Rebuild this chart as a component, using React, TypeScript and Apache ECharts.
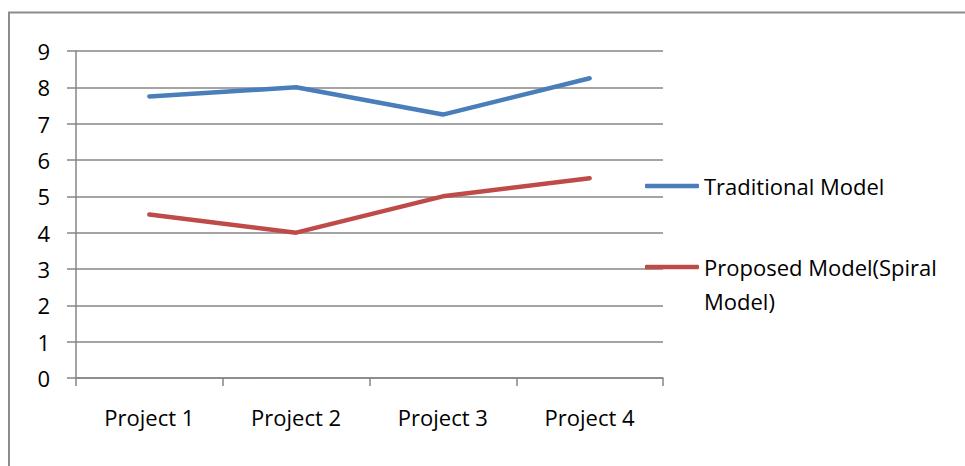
import React, { useEffect, useRef } from "react";
import * as echarts from "echarts";

const categories = ["Project 1", "Project 2", "Project 3", "Project 4"];
const traditional = [7.75, 8, 7.25, 8.25];
const proposed = [4.5, 4, 5, 5.5];
const seriesNames = ["Traditional Model", "Proposed Model(Spiral Model)"];

const FONT = "Open Sans";
const FS = 22;

export default function App() {
  const ref = useRef<HTMLDivElement>(null);
  useEffect(() => {
    if (!ref.current) return;
    const chart = echarts.init(ref.current, null, { renderer: "svg" });
    chart.setOption({
      animation: false,
      backgroundColor: "#fff",
      graphic: [
        {
          type: "rect",
          shape: { x: 9, y: 12.5, width: 1000, height: 500 },
          style: { fill: "none", stroke: "#8c8c8c", lineWidth: 2 },
          silent: true,
        },
      ],
      grid: { left: 76, right: 302, top: 51, bottom: 88 },
      xAxis: {
        type: "category",
        data: categories,
        boundaryGap: true,
        axisLine: { lineStyle: { color: "#868686", width: 1.5 } },
        axisTick: { show: true, length: 8, lineStyle: { color: "#868686", width: 1.5 } },
        axisLabel: { color: "#000", fontFamily: FONT, fontSize: FS, margin: 28 },
      },
      yAxis: {
        type: "value",
        min: 0,
        max: 9,
        interval: 1,
        axisLine: { show: true, lineStyle: { color: "#868686", width: 1.5 } },
        axisTick: { show: true, length: 9, lineStyle: { color: "#868686", width: 1.5 } },
        axisLabel: { color: "#000", fontFamily: FONT, fontSize: FS, margin: 26 },
        splitLine: { lineStyle: { color: "#868686", width: 1.5 } },
      },
      legend: [
        {
          data: [seriesNames[0]],
          left: 645,
          top: 169,
          padding: 0,
          orient: "vertical",
          itemWidth: 54,
          itemHeight: 4.5,
          itemGap: 0,
          icon: "roundRect",
          textStyle: { color: "#000", fontFamily: FONT, fontSize: FS, lineHeight: 34 },
        },
        {
          data: [seriesNames[1]],
          left: 645,
          top: 216,
          padding: 0,
          orient: "vertical",
          itemWidth: 54,
          itemHeight: 4.5,
          itemGap: 0,
          icon: "roundRect",
          formatter: () => "\nProposed Model(Spiral\nModel)",
          textStyle: {
            color: "#000",
            fontFamily: FONT,
            fontSize: FS,
            lineHeight: 34,
          },
        },
      ],
      series: [
        {
          name: seriesNames[0],
          type: "line",
          data: traditional,
          symbol: "none",
          lineStyle: { color: "#4A7EBB", width: 4.5, cap: "round" },
          itemStyle: { color: "#4A7EBB" },
        },
        {
          name: seriesNames[1],
          type: "line",
          data: proposed,
          symbol: "none",
          lineStyle: { color: "#BE4B48", width: 4.5, cap: "round" },
          itemStyle: { color: "#BE4B48" },
        },
      ],
    });
    return () => chart.dispose();
  }, []);
  return <div ref={ref} style={{ width: 965, height: 466, position: "absolute", left: 0, top: 0 }} />;
}
